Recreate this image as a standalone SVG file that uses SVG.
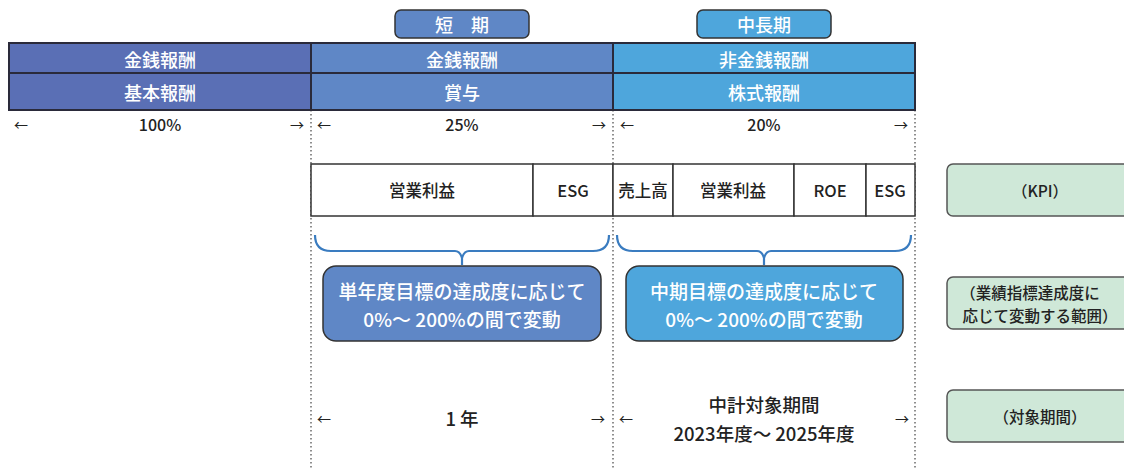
<svg xmlns="http://www.w3.org/2000/svg" width="1124" height="473" viewBox="0 0 1124 473">
<style>
text{font-family:"Noto Sans CJK JP","Noto Sans",sans-serif;text-anchor:middle;dominant-baseline:central}
.w{fill:#fff;font-size:18px;font-weight:500}
.c{fill:#fff;font-size:19px;font-weight:500}
.k{fill:#222;font-size:16.5px;font-weight:500}
.p{fill:#222;font-size:16px;font-weight:500}
.big{fill:#222;font-size:18.5px;font-weight:500}
.lg{fill:#222;font-size:15.5px;font-weight:500}
.hdr{stroke:#2a2a3a;stroke-width:2}
.cell{fill:#fff;stroke:#333;stroke-width:1.5}
.dot{stroke:#444;stroke-width:1.2;stroke-dasharray:1.5 2.5;fill:none}
.brace{fill:none;stroke:#3a7cc0;stroke-width:2.2}
.call{stroke:#333;stroke-width:1.5}
.g{fill:#cfe8d8;stroke:#555;stroke-width:1.5}
.ar{fill:#222;font-size:14px}
</style>
<g id="connectors">
<line class="dot" x1="311" y1="110" x2="311" y2="470"/>
<line class="dot" x1="613" y1="110" x2="613" y2="470"/>
<line class="dot" x1="915" y1="110" x2="915" y2="470"/>
<path class="brace" d="M315 235 Q315 251 331 251 L455 251 Q460 251 462 258 L462 265 L462 258 Q464 251 469 251 L593 251 Q609 251 609 235"/>
<path class="brace" d="M617 235 Q617 251 633 251 L757 251 Q762 251 764 258 L764 265 L764 258 Q766 251 771 251 L895 251 Q911 251 911 235"/>
</g>
<g id="pill-short">
<rect x="395" y="10" width="134" height="28" rx="6" fill="#5f87c6" stroke="#333" stroke-width="1.5"/>
<text class="w" x="462" y="24">短　期</text>
</g>
<g id="pill-mid">
<rect x="697" y="10" width="134" height="28" rx="6" fill="#4ea6dc" stroke="#333" stroke-width="1.5"/>
<text class="w" x="764" y="24">中長期</text>
</g>
<g id="col-base">
<rect class="hdr" x="9" y="43" width="302" height="30" fill="#5a6fb5"/>
<rect class="hdr" x="9" y="73" width="302" height="37" fill="#5a6fb5"/>
<text class="w" x="160" y="59">金銭報酬</text>
<text class="w" x="160" y="92">基本報酬</text>
</g>
<g id="col-bonus">
<rect class="hdr" x="311" y="43" width="302" height="30" fill="#5f87c6"/>
<rect class="hdr" x="311" y="73" width="302" height="37" fill="#5f87c6"/>
<text class="w" x="462" y="59">金銭報酬</text>
<text class="w" x="462" y="92">賞与</text>
</g>
<g id="col-stock">
<rect class="hdr" x="613" y="43" width="302" height="30" fill="#4ea6dc"/>
<rect class="hdr" x="613" y="73" width="302" height="37" fill="#4ea6dc"/>
<text class="w" x="764" y="59">非金銭報酬</text>
<text class="w" x="764" y="92">株式報酬</text>
</g>
<g id="pct-row">
<text class="ar" x="21" y="124">←</text>
<text class="p" x="160" y="124">100%</text>
<text class="ar" x="297" y="124">→</text>
<text class="ar" x="324" y="124">←</text>
<text class="p" x="462" y="124">25%</text>
<text class="ar" x="599" y="124">→</text>
<text class="ar" x="627" y="124">←</text>
<text class="p" x="764" y="124">20%</text>
<text class="ar" x="901" y="124">→</text>
</g>
<g id="kpi-short">
<rect class="cell" x="311" y="164" width="222" height="52"/>
<rect class="cell" x="533" y="164" width="80" height="52"/>
<text class="k" x="422" y="190">営業利益</text>
<text class="k" x="573" y="190">ESG</text>
</g>
<g id="kpi-mid">
<rect class="cell" x="613" y="164" width="60" height="52"/>
<rect class="cell" x="673" y="164" width="121" height="52"/>
<rect class="cell" x="794" y="164" width="72" height="52"/>
<rect class="cell" x="866" y="164" width="49" height="52"/>
<text class="k" x="643" y="190">売上高</text>
<text class="k" x="733" y="190">営業利益</text>
<text class="k" x="830" y="190">ROE</text>
<text class="k" x="890" y="190">ESG</text>
</g>
<g id="callout-short">
<rect class="call" x="323" y="266" width="278" height="75" rx="13" fill="#5f87c6"/>
<text class="c" x="462" y="290">単年度目標の達成度に応じて</text>
<text class="c" x="462" y="318">0%～ 200%の間で変動</text>
</g>
<g id="callout-mid">
<rect class="call" x="626" y="266" width="277" height="75" rx="13" fill="#4ea6dc"/>
<text class="c" x="764" y="290">中期目標の達成度に応じて</text>
<text class="c" x="764" y="318">0%～ 200%の間で変動</text>
</g>
<g id="period-row">
<text class="ar" x="324" y="418">←</text>
<text class="big" x="462" y="418">1 年</text>
<text class="ar" x="598" y="418">→</text>
<text class="ar" x="626" y="418">←</text>
<text class="big" x="764" y="404">中計対象期間</text>
<text class="big" x="764" y="433">2023年度～ 2025年度</text>
<text class="ar" x="902" y="418">→</text>
</g>
<g id="legend-kpi">
<rect class="g" x="947" y="164" width="190" height="52" rx="6"/>
<text class="lg" x="1040" y="190">（KPI）</text>
</g>
<g id="legend-range">
<rect class="g" x="947" y="277" width="190" height="52" rx="6"/>
<text class="lg" x="1030" y="292">（業績指標達成度に</text>
<text class="lg" x="1040" y="315">応じて変動する範囲）</text>
</g>
<g id="legend-period">
<rect class="g" x="947" y="390" width="190" height="52" rx="6"/>
<text class="lg" x="1040" y="416">（対象期間）</text>
</g>
</svg>
